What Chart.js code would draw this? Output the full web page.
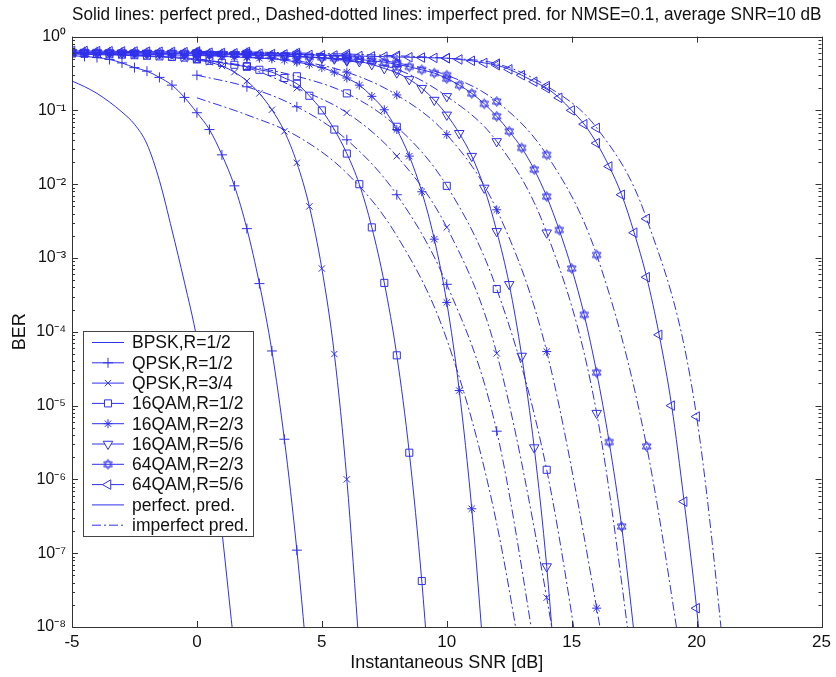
<!DOCTYPE html>
<html>
<head>
<meta charset="utf-8">
<title>BER vs instantaneous SNR</title>
<script src="https://cdn.jsdelivr.net/npm/chart.js@4.4.1/dist/chart.umd.min.js"></script>
<style>
  html, body { margin: 0; padding: 0; background: #fff; }
  #wrap { width: 836px; height: 677px; }
</style>
</head>
<body>
<div id="wrap"><canvas id="chart" width="836" height="677"></canvas></div>
<script>
'use strict';

// SNR grids (dB)
const snrPerfect = [-5, -4.5, -4, -3.5, -3, -2.5, -2, -1.5, -1, -0.5, 0, 0.5, 1, 1.5, 2, 2.5, 3, 3.5, 4, 4.5,
  5, 5.5, 6, 6.5, 7, 7.5, 8, 8.5, 9, 9.5, 10, 10.5, 11, 11.5, 12, 12.5, 13, 13.5, 14, 14.5,
  15, 15.5, 16, 16.5, 17, 17.5, 18, 18.5, 19, 19.5, 20, 20.5];
const snrImperfect = [0, 2, 4, 6, 8, 10, 12, 14, 16, 18, 20, 22];

// BER with perfect prediction (solid lines)
const berBpskPerfect = [0.25, 0.21, 0.17, 0.13, 0.095, 0.065, 0.035, 0.0112, 0.0024, 4.7e-4, 7.9e-5, 6.3e-6, 2e-7, 5e-9];
const berQpsk12Perfect = [0.55, 0.54, 0.52, 0.49, 0.44, 0.38, 0.34, 0.28, 0.22, 0.15,
  0.093, 0.055, 0.025, 0.0095, 0.0025, 4.5e-4, 5.5e-5, 3.5e-6, 1.1e-7, 1.6e-9];
const berQpsk34Perfect = [0.58, 0.575, 0.57, 0.565, 0.56, 0.55, 0.54, 0.53, 0.52, 0.5,
  0.48, 0.45, 0.40, 0.33, 0.25, 0.17, 0.102, 0.052, 0.0195, 0.005,
  7.2e-4, 5e-5, 1e-6, 5e-9];
const berQam16r12Perfect = [0.59, 0.585, 0.58, 0.575, 0.57, 0.56, 0.55, 0.54, 0.53, 0.52,
  0.49, 0.47, 0.44, 0.415, 0.39, 0.355, 0.33, 0.275, 0.23, 0.158,
  0.1, 0.055, 0.026, 0.01, 0.0026, 4.6e-4, 4.8e-5, 2.3e-6, 4.2e-8, 2.5e-10];
const berQam16r23Perfect = [0.6, 0.6, 0.595, 0.59, 0.585, 0.58, 0.575, 0.57, 0.565, 0.56,
  0.555, 0.55, 0.54, 0.53, 0.52, 0.51, 0.5, 0.48, 0.45, 0.42,
  0.38, 0.33, 0.275, 0.22, 0.155, 0.102, 0.055, 0.024, 0.0079, 0.0018,
  2.5e-4, 1.6e-5, 4e-7, 3.2e-9];
const berQam16r56Perfect = [0.61, 0.607, 0.605, 0.602, 0.6, 0.597, 0.595, 0.592, 0.59, 0.585,
  0.58, 0.575, 0.57, 0.565, 0.56, 0.555, 0.55, 0.545, 0.535, 0.525,
  0.515, 0.5, 0.48, 0.46, 0.42, 0.37, 0.324, 0.263, 0.2, 0.138,
  0.087, 0.049, 0.024, 0.0089, 0.0023, 4.4e-4, 4.7e-5, 2.7e-6, 6.6e-8, 5e-10];
const berQam64r23Perfect = [0.62, 0.618, 0.615, 0.612, 0.61, 0.607, 0.605, 0.602, 0.6, 0.597,
  0.59, 0.587, 0.58, 0.575, 0.57, 0.565, 0.555, 0.55, 0.54, 0.53,
  0.52, 0.51, 0.5, 0.49, 0.47, 0.45, 0.42, 0.39, 0.355, 0.32,
  0.27, 0.22, 0.17, 0.123, 0.083, 0.052, 0.031, 0.0158, 0.0068, 0.0024,
  7.2e-4, 1.7e-4, 2.8e-5, 3.2e-6, 2.3e-7, 7.9e-9, 1.6e-10];
const berQam64r56Perfect = [0.64, 0.638, 0.635, 0.633, 0.63, 0.628, 0.625, 0.623, 0.62, 0.615,
  0.61, 0.605, 0.6, 0.595, 0.59, 0.585, 0.58, 0.575, 0.57, 0.565,
  0.56, 0.555, 0.55, 0.545, 0.54, 0.535, 0.53, 0.525, 0.52, 0.515,
  0.51, 0.49, 0.47, 0.44, 0.41, 0.36, 0.30, 0.245, 0.2, 0.148,
  0.1, 0.065, 0.036, 0.0174, 0.0072, 0.0022, 5.5e-4, 9.1e-5, 1e-5, 5e-7,
  1.8e-8, 3.2e-10];

// BER with imperfect prediction, NMSE=0.1 (dash-dotted lines)
const berBpskImperfect = [0.148, 0.087, 0.045, 0.0141, 0.002, 7.9e-5, 2.5e-7, 2.5e-11];
const berQpsk12Imperfect = [0.3, 0.209, 0.112, 0.04, 0.0072, 4.4e-4, 4.5e-6, 5e-10];
const berQpsk34Imperfect = [0.5, 0.38, 0.2, 0.093, 0.024, 0.0026, 5.1e-5, 2.5e-8, 1e-12];
const berQam16r12Imperfect = [0.5, 0.4, 0.29, 0.17, 0.06, 0.0095, 3.8e-4, 1.35e-6, 1e-10];
const berQam16r23Imperfect = [0.57, 0.53, 0.47, 0.33, 0.162, 0.047, 0.0045, 5.4e-5, 1.8e-8, 1e-12];
const berQam16r56Imperfect = [0.6, 0.58, 0.54, 0.47, 0.36, 0.155, 0.038, 0.0022, 7.9e-6, 1e-10];
const berQam64r23Imperfect = [0.61, 0.6, 0.58, 0.54, 0.44, 0.3, 0.132, 0.025, 0.0011, 2.8e-6, 1.6e-10];
const berQam64r56Imperfect = [0.63, 0.62, 0.6, 0.58, 0.55, 0.51, 0.43, 0.214, 0.058, 0.0034, 7.1e-6, 3.2e-12];

// axis ticks
const berTicks = [1e-8, 1e-7, 1e-6, 1e-5, 1e-4, 1e-3, 1e-2, 1e-1, 1];
const berTickLabels = ['10⁻⁸', '10⁻⁷', '10⁻⁶', '10⁻⁵', '10⁻⁴', '10⁻³', '10⁻²', '10⁻¹', '10⁰'];
const snrTicks = [-5, 0, 5, 10, 15, 20, 25];

const titleText = 'Solid lines: perfect pred., Dashed-dotted lines: imperfect pred. for NMSE=0.1, average SNR=10 dB';

const BLUE = 'rgb(48,48,235)';
const DASHDOT = [9, 3, 2, 3];
const FONT = "'Liberation Sans', Arial, Helvetica, sans-serif";
Chart.defaults.font.family = FONT;

// MATLAB 'hexagram' marker, no built-in equivalent in chart.js
function makeHexagram(r) {
  const size = Math.ceil(2 * r + 3);
  const c = document.createElement('canvas');
  c.width = size; c.height = size;
  const g = c.getContext('2d');
  g.strokeStyle = BLUE;
  g.lineWidth = 1;
  const cx = size / 2, cy = size / 2;
  [-90, 90].forEach(start => {
    g.beginPath();
    for (let k = 0; k < 3; k++) {
      const a = (start + 120 * k) * Math.PI / 180;
      const px = cx + r * Math.cos(a), py = cy + r * Math.sin(a);
      if (k === 0) g.moveTo(px, py); else g.lineTo(px, py);
    }
    g.closePath();
    g.stroke();
  });
  return c;
}
const hexagram = makeHexagram(5);

const schemes = [
  {label: 'BPSK,R=1/2', perfect: berBpskPerfect, imperfect: berBpskImperfect, marker: null},
  {label: 'QPSK,R=1/2', perfect: berQpsk12Perfect, imperfect: berQpsk12Imperfect, marker: {style: 'cross', r: 5, rot: 0}},
  {label: 'QPSK,R=3/4', perfect: berQpsk34Perfect, imperfect: berQpsk34Imperfect, marker: {style: 'crossRot', r: 4.5, rot: 0}},
  {label: '16QAM,R=1/2', perfect: berQam16r12Perfect, imperfect: berQam16r12Imperfect, marker: {style: 'rect', r: 5, rot: 0}},
  {label: '16QAM,R=2/3', perfect: berQam16r23Perfect, imperfect: berQam16r23Imperfect, marker: {style: 'star', r: 4.5, rot: 0}},
  {label: '16QAM,R=5/6', perfect: berQam16r56Perfect, imperfect: berQam16r56Imperfect, marker: {style: 'triangle', r: 5.5, rot: 180}},
  {label: '64QAM,R=2/3', perfect: berQam64r23Perfect, imperfect: berQam64r23Imperfect, marker: {style: hexagram, r: 5, rot: 0}},
  {label: '64QAM,R=5/6', perfect: berQam64r56Perfect, imperfect: berQam64r56Imperfect, marker: {style: 'triangle', r: 5.5, rot: 270}}
];

function toPoints(xs, ys) {
  return ys.map((y, i) => ({x: xs[i], y: y}));
}

function makeDataset(s, xs, ys, dashed) {
  const m = s.marker;
  return {
    label: s.label + (dashed ? ' imperfect' : ' perfect'),
    data: toPoints(xs, ys),
    borderColor: BLUE,
    borderWidth: 1,
    borderDash: dashed ? DASHDOT : [],
    cubicInterpolationMode: 'monotone',
    fill: false,
    pointStyle: m ? m.style : 'circle',
    pointRadius: m ? m.r : 0,
    pointRotation: m ? m.rot : 0,
    pointBorderColor: BLUE,
    pointBackgroundColor: 'rgba(0,0,0,0)',
    pointBorderWidth: 1
  };
}

const datasets = [];
schemes.forEach(s => {
  datasets.push(makeDataset(s, snrPerfect, s.perfect, false));
  datasets.push(makeDataset(s, snrImperfect, s.imperfect, true));
});

// inward tick marks + box round the axes, like the matlab figure
const frameTicks = {
  id: 'frameTicks',
  afterDatasetsDraw(chart) {
    const {ctx, chartArea: a, scales: {x, y}} = chart;
    ctx.save();
    ctx.strokeStyle = '#333';
    ctx.lineWidth = 1;
    ctx.beginPath();
    x.ticks.forEach(t => {
      const px = Math.round(x.getPixelForValue(t.value)) + 0.5;
      ctx.moveTo(px, a.bottom); ctx.lineTo(px, a.bottom - 6);
      ctx.moveTo(px, a.top); ctx.lineTo(px, a.top + 6);
    });
    for (let e = -8; e <= 0; e++) {
      for (let m = 1; m <= 9; m++) {
        if (e === 0 && m > 1) break;
        const py = Math.round(y.getPixelForValue(m * Math.pow(10, e))) + 0.5;
        const len = m === 1 ? 6 : 3;
        ctx.moveTo(a.left, py); ctx.lineTo(a.left + len, py);
        ctx.moveTo(a.right, py); ctx.lineTo(a.right - len, py);
      }
    }
    ctx.stroke();
    ctx.strokeRect(Math.round(a.left) + 0.5, Math.round(a.top) + 0.5, Math.round(a.width), Math.round(a.height));
    ctx.restore();
  }
};

const legendRows = schemes.map(s => ({label: s.label, marker: s.marker, dash: []}))
  .concat([{label: 'perfect. pred.', marker: null, dash: []},
           {label: 'imperfect pred.', marker: null, dash: DASHDOT}]);

const boxLegend = {
  id: 'boxLegend',
  afterDatasetsDraw(chart) {
    const {ctx, chartArea: a} = chart;
    const x0 = Math.round(a.left) + 11, y0 = Math.round(a.top) + 294, w = 170, h = 205;
    ctx.save();
    ctx.fillStyle = '#fff';
    ctx.fillRect(x0, y0, w, h);
    ctx.strokeStyle = '#444';
    ctx.lineWidth = 1;
    ctx.strokeRect(x0 + 0.5, y0 + 0.5, w, h);
    legendRows.forEach((row, i) => {
      const cy = y0 + 11.5 + i * 20.3;
      ctx.strokeStyle = BLUE;
      ctx.lineWidth = 1;
      ctx.setLineDash(row.dash);
      ctx.beginPath();
      ctx.moveTo(x0 + 9, cy); ctx.lineTo(x0 + 41, cy);
      ctx.stroke();
      ctx.setLineDash([]);
      if (row.marker) {
        ctx.fillStyle = '#fff';
        Chart.helpers.drawPoint(ctx, {pointStyle: row.marker.style, radius: row.marker.r,
          rotation: row.marker.rot, borderWidth: 1}, x0 + 25, cy);
      }
      ctx.fillStyle = '#111';
      ctx.font = '17.5px ' + FONT;
      ctx.textBaseline = 'middle';
      ctx.fillText(row.label, x0 + 49, cy + 1);
    });
    ctx.restore();
  }
};

const config = {
  type: 'line',
  data: {datasets: datasets},
  options: {
    responsive: false,
    animation: false,
    events: [],
    layout: {padding: {left: 0, right: 13, top: 0, bottom: 0}},
    plugins: {
      legend: {display: false},
      tooltip: {enabled: false},
      title: {
        display: true,
        fullSize: false,
        text: titleText,
        color: '#111',
        font: {size: 18, weight: 'normal', lineHeight: 1.2},
        padding: {top: 4, bottom: 11}
      }
    },
    scales: {
      x: {
        type: 'linear',
        min: -5,
        max: 25,
        afterBuildTicks: s => { s.ticks = snrTicks.map(v => ({value: v})); },
        ticks: {color: '#111', font: {size: 17}, padding: 5, autoSkip: false},
        grid: {display: false, drawTicks: false},
        border: {display: false},
        title: {display: true, text: 'Instantaneous SNR [dB]', color: '#111', font: {size: 18}, padding: {top: 0, bottom: 3}},
        afterFit: s => { s.height = 50; }
      },
      y: {
        type: 'logarithmic',
        min: 1e-8,
        max: 1,
        afterBuildTicks: s => { s.ticks = berTicks.map(v => ({value: v})); },
        ticks: {color: '#111', font: {size: 16}, padding: 6, autoSkip: false,
          callback: (v, i) => berTickLabels[i]},
        grid: {display: false, drawTicks: false},
        border: {display: false},
        title: {display: true, text: 'BER', color: '#111', font: {size: 18}, padding: {top: 9, bottom: 0}},
        afterFit: s => { s.width = 72; }
      }
    }
  },
  plugins: [frameTicks, boxLegend]
};

const berChart = new Chart(document.getElementById('chart'), config);
</script>
</body>
</html>
